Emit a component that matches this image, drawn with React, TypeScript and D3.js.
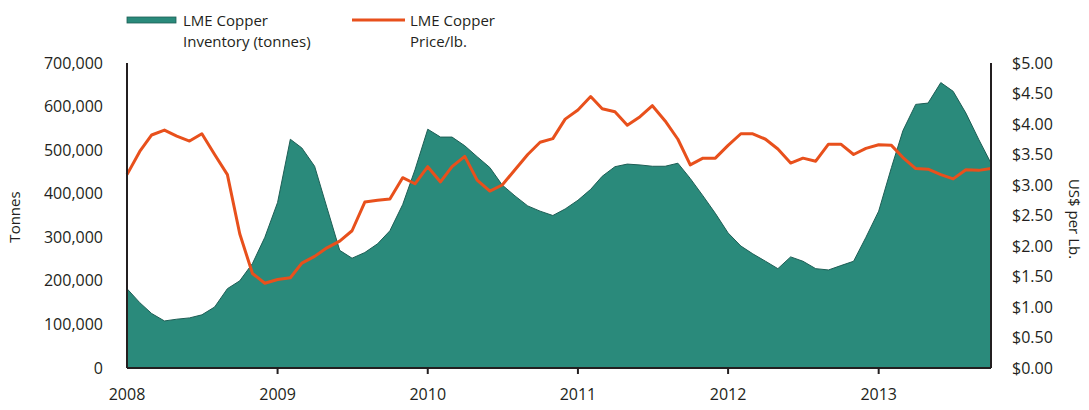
import * as d3 from 'd3'

// monthly, Jan 2008 .. Oct 2013
const startMonth = new Date(2008, 0, 1)
const yearTicks = [2008, 2009, 2010, 2011, 2012, 2013]

// LME copper inventory, thousand tonnes
const inventoryK = [
  182, 150, 125, 108, 112, 115, 122, 140, 182, 200, 240, 300,
  380, 525, 505, 463, 368, 270, 252, 265, 285, 315, 375, 455,
  548, 530, 530, 510, 485, 460, 420, 395, 372, 360, 350, 365,
  385, 410, 440, 462, 468, 466, 463, 463, 470, 435, 395, 355,
  310, 280, 262, 245, 228, 255, 245, 228, 225, 235, 245, 300,
  360, 460, 545, 605, 608, 655, 635, 585, 525, 470,
]

// LME copper price, US$ per lb
const priceUsd = [
  3.17, 3.55, 3.82, 3.9, 3.8, 3.72, 3.84, 3.5, 3.17, 2.2, 1.55, 1.39,
  1.45, 1.48, 1.72, 1.83, 1.97, 2.08, 2.25, 2.72, 2.75, 2.77, 3.12, 3.02,
  3.3, 3.05, 3.3, 3.47, 3.08, 2.9, 3.0, 3.25, 3.5, 3.7, 3.76, 4.08,
  4.23, 4.45, 4.25, 4.2, 3.98, 4.12, 4.3, 4.05, 3.75, 3.33, 3.44, 3.44,
  3.65, 3.84, 3.84, 3.75, 3.59, 3.36, 3.44, 3.39, 3.67, 3.67, 3.5, 3.6,
  3.66, 3.65, 3.45, 3.27, 3.26, 3.17, 3.1, 3.25, 3.24, 3.27,
]

const tonnesTicks = [0, 100000, 200000, 300000, 400000, 500000, 600000, 700000]
const priceTicks = [0, 0.5, 1, 1.5, 2, 2.5, 3, 3.5, 4, 4.5, 5]

const W = 1089
const H = 410
const left = 127
const right = 991
const top = 63
const bottom = 368

const FONT = '"Open Sans", "Noto Sans", sans-serif'
const TEXT = '#231f20'
const TEAL = '#2a8a7b'
const ORANGE = '#e8501c'

type Row = { date: Date; inv: number; price: number }

const rows: Row[] = inventoryK.map((v, i) => ({
  date: d3.timeMonth.offset(startMonth, i),
  inv: v * 1000,
  price: priceUsd[i],
}))

export default function App() {
  const x = d3
    .scaleTime()
    .domain([rows[0].date, rows[rows.length - 1].date])
    .range([left, right])
  const yInv = d3.scaleLinear().domain([0, 700000]).range([bottom, top])
  const yPrice = d3.scaleLinear().domain([0, 5]).range([bottom, top])

  const area = d3
    .area<Row>()
    .x((d) => x(d.date))
    .y0(bottom)
    .y1((d) => yInv(d.inv))
  const topEdge = d3
    .line<Row>()
    .x((d) => x(d.date))
    .y((d) => yInv(d.inv))
  const priceLine = d3
    .line<Row>()
    .x((d) => x(d.date))
    .y((d) => yPrice(d.price))

  const fmtTonnes = d3.format(',')
  const fmtPrice = (v: number) => '$' + d3.format('.2f')(v)

  return (
    <svg
      width={W}
      height={H}
      style={{ position: 'absolute', left: 0, top: 0, background: '#fff' }}
      fontFamily={FONT}
    >
      {/* legend */}
      <rect x={127} y={17} width={49} height={6} fill={TEAL} stroke="#1d5e55" strokeWidth={0.8} />
      <text x={183} y={26} fontSize={15} fill={TEXT}>LME Copper</text>
      <text x={183} y={47} fontSize={15} fill={TEXT}>Inventory (tonnes)</text>
      <line x1={352} x2={405} y1={20} y2={20} stroke={ORANGE} strokeWidth={3} />
      <text x={410} y={26} fontSize={15} fill={TEXT}>LME Copper</text>
      <text x={410} y={47} fontSize={15} fill={TEXT}>Price/lb.</text>

      {/* inventory area */}
      <path d={area(rows) ?? ''} fill={TEAL} />
      <path d={topEdge(rows) ?? ''} fill="none" stroke="#1d5e55" strokeWidth={1} />

      {/* price line */}
      <path
        d={priceLine(rows) ?? ''}
        fill="none"
        stroke={ORANGE}
        strokeWidth={3}
        strokeLinejoin="round"
      />

      {/* axes */}
      <line x1={left} x2={left} y1={top} y2={bottom} stroke={TEXT} strokeWidth={2} />
      <line x1={right} x2={right} y1={top} y2={bottom} stroke={TEXT} strokeWidth={2} />
      <line x1={left} x2={right} y1={bottom} y2={bottom} stroke={TEXT} strokeWidth={2} />

      {tonnesTicks.map((t) => (
        <text
          key={t}
          x={103}
          y={yInv(t)}
          dy="0.35em"
          textAnchor="end"
          fontSize={16}
          fill={TEXT}
        >
          {fmtTonnes(t)}
        </text>
      ))}

      {priceTicks.map((t) => (
        <text key={t} x={1012} y={yPrice(t)} dy="0.35em" fontSize={16} fill={TEXT}>
          {fmtPrice(t)}
        </text>
      ))}

      {yearTicks.map((yr) => {
        const xx = x(new Date(yr, 0, 1))
        return (
          <g key={yr}>
            {yr > 2008 && <line x1={xx} x2={xx} y1={bottom} y2={bottom + 6} stroke={TEXT} strokeWidth={2} />}
            <text x={xx} y={400} textAnchor="middle" fontSize={16} fill={TEXT}>
              {yr}
            </text>
          </g>
        )
      })}

      <text
        transform={`translate(20,217) rotate(-90)`}
        textAnchor="middle"
        fontSize={15}
        fill={TEXT}
      >
        Tonnes
      </text>
      <text
        transform={`translate(1069,219) rotate(90)`}
        textAnchor="middle"
        fontSize={15}
        fill={TEXT}
      >
        US$ per Lb.
      </text>
    </svg>
  )
}
